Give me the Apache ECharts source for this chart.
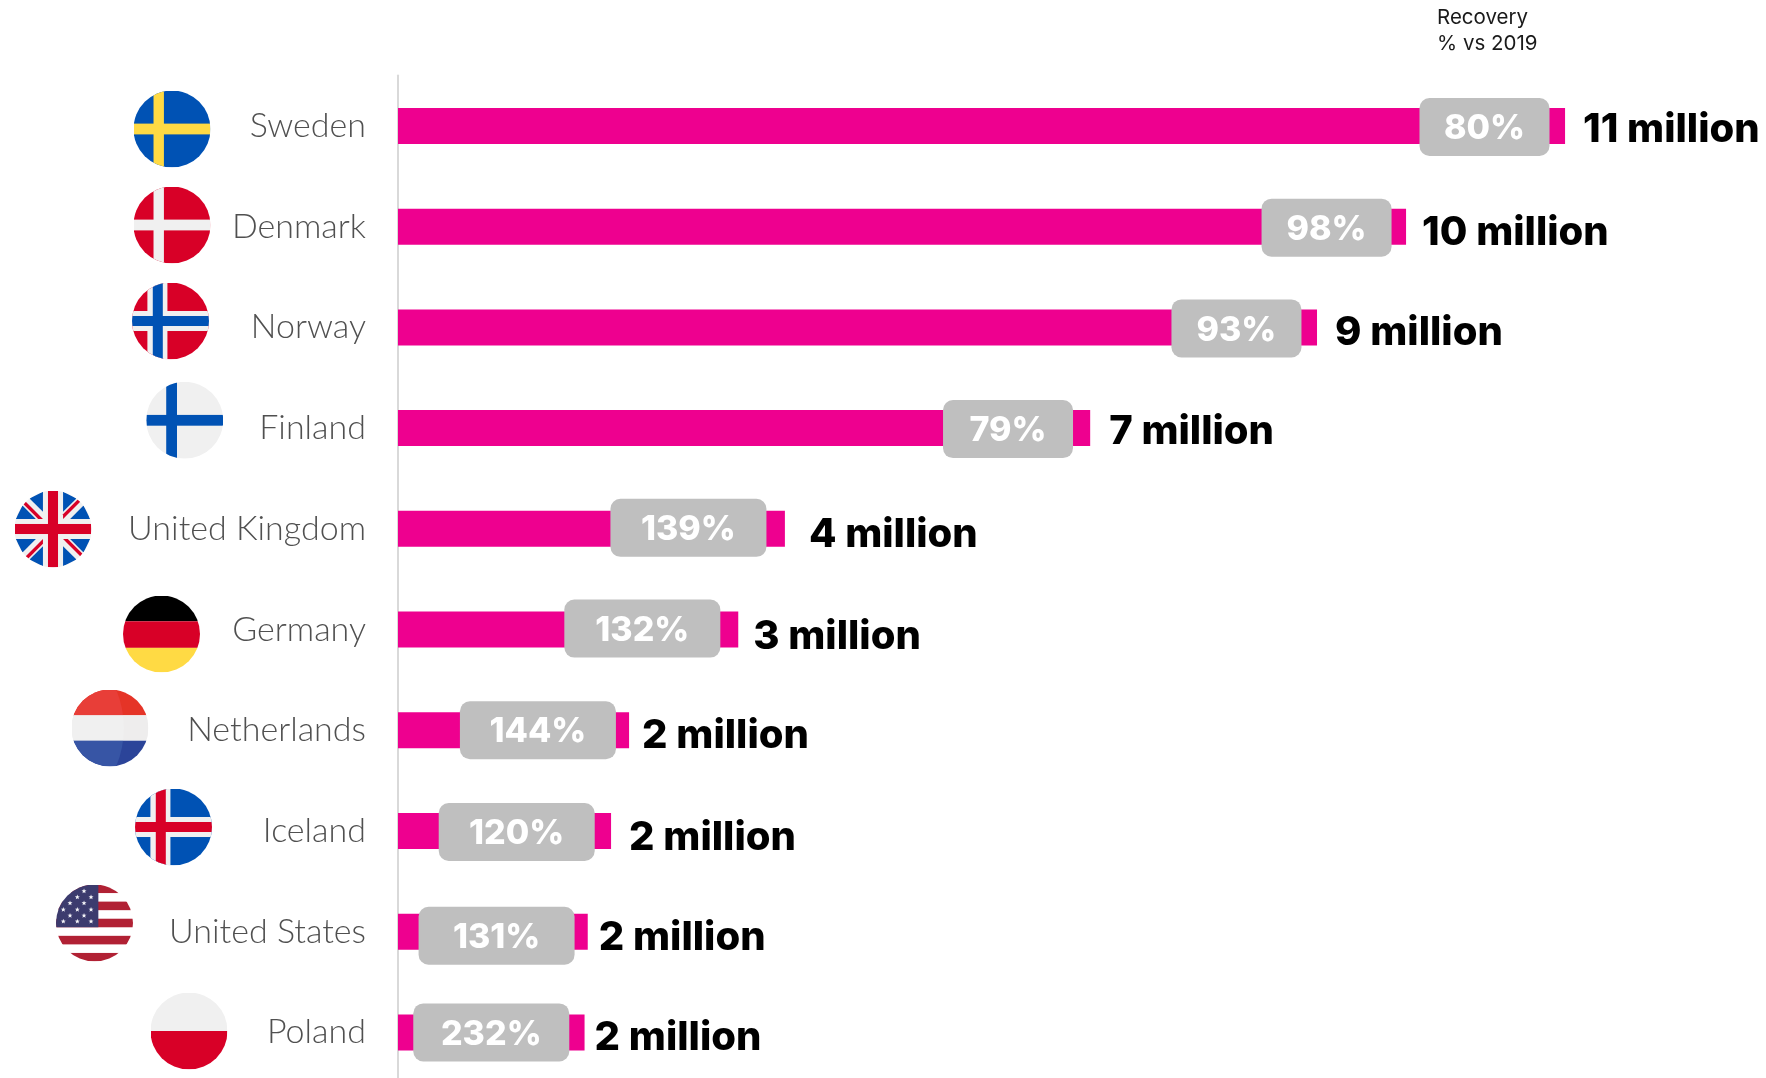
<!DOCTYPE html>
<html>
<head>
<meta charset="utf-8">
<title>Travellers by source market</title>
<style>
  html, body { margin: 0; padding: 0; background: #fff; }
  #chart { width: 1766px; height: 1078px; }
</style>
<script src="https://cdn.jsdelivr.net/npm/echarts@6/dist/echarts.min.js"></script>
</head>
<body>
<div id="chart"></div>
<script>
// Travellers per source market, in millions, and recovery against 2019
const countries = ['Sweden', 'Denmark', 'Norway', 'Finland', 'United Kingdom', 'Germany', 'Netherlands', 'Iceland', 'United States', 'Poland'];
const travellers = [11.01, 9.51, 8.67, 6.53, 3.65, 3.21, 2.18, 2.01, 1.79, 1.76];
const recovery = [80, 98, 93, 79, 139, 132, 144, 120, 131, 232];
// Where each recovery badge is centred along the value axis, in millions
const badgeAt = [10.25, 8.76, 7.91, 5.755, 2.74, 2.305, 1.32, 1.12, 0.93, 0.88];

const BODY_FONT = 'Inter, "Noto Sans", sans-serif';
const PINK = '#ee008f';
const GREY = '#bfbfbf';

// Small per-row nudges for the annotations
const labelNudge = [[18, 4], [16, 6], [18, 6], [19, 4], [24, 6], [15, 7], [13, 6], [18, 7], [11, 6], [10, 6]];
const badgeNudge = [1, 1, 1, 1, -1, -1, 0, 1, 4, 0];

// Round flag icons, each clipped to a circle on a 100-unit square
const RED = '#d80027', BLUE = '#0052b4', YELLOW = '#ffda44', PALE = '#f0f0f0';
const rect = (x, y, w, h, c) => `<rect x="${x}" y="${y}" width="${w}" height="${h}" fill="${c}"/>`;
const nordic = (bg, vx, vw, hy, hh, c) => rect(0, 0, 100, 100, bg) + rect(vx, 0, vw, 100, c) + rect(0, hy, 100, hh, c);
const nordicDouble = (bg, outer, inner) => nordic(bg, 20, 26, 37, 26, outer) + rect(27, 0, 13, 100, inner) + rect(0, 43.5, 100, 13, inner);

function starPath(cx, cy, r) {
  let d = '';
  for (let k = 0; k < 10; k++) {
    const a = -Math.PI / 2 + k * Math.PI / 5;
    const q = k % 2 ? r * 0.42 : r;
    d += (k ? 'L' : 'M') + (cx + q * Math.cos(a)).toFixed(2) + ' ' + (cy + q * Math.sin(a)).toFixed(2);
  }
  return d + 'Z';
}

const usStars = [[36.4, 8.7], [27.7, 16.5], [45.5, 16.5], [18.2, 24.2], [36.4, 24.2], [9.5, 32.5], [27.7, 32.5], [45.5, 32.5], [18.2, 40.3], [36.4, 40.3], [9.5, 48], [27.7, 48], [45.5, 48]];
const usFlag = rect(0, 0, 100, 100, '#ffffff')
  + [0, 2, 4, 6, 8].map(i => rect(0, i * 11.11, 100, 11.11, '#b12134')).join('')
  + rect(0, 0, 55, 55.5, '#3c3b6e')
  + `<path fill="#f4f4f8" d="${usStars.map(s => starPath(s[0], s[1], 3.4)).join('')}"/>`;

const ukTriangles = [
  '52.9,100.1 8.8,189.2 142,189.2', '189.2,8.8 100.1,52.9 189.2,142',
  '322.8,8.8 322.8,142 411.9,52.9', '370,189.2 503.2,189.2 459.1,100.1',
  '8.8,322.8 52.9,411.9 142,322.8', '100.1,459.1 189.2,503.2 189.2,370',
  '322.8,503.2 411.9,459.1 322.8,370', '370,322.8 459.1,411.9 503.2,322.8'
];
const ukDiagonals = [
  '322.8,322.8 437,437 452.1,420.6 354.3,322.8', '189.2,189.2 75,75 59.9,91.4 157.7,189.2',
  '189.2,322.8 75,437 91.4,452.1 189.2,354.3', '322.8,189.2 437,75 420.6,59.9 322.8,157.7'
];
const ukFlag = `<g transform="scale(0.1953)">`
  + rect(0, 0, 512, 512, PALE)
  + ukTriangles.map(p => `<polygon fill="${BLUE}" points="${p}"/>`).join('')
  + ukDiagonals.map(p => `<polygon fill="${RED}" points="${p}"/>`).join('')
  + rect(222.6, 0, 66.8, 512, RED) + rect(0, 222.6, 512, 66.8, RED)
  + `</g>`;

const dutchFlag = rect(0, 0, 100, 33.5, '#e53427') + rect(0, 33.5, 100, 33, '#eeeded') + rect(0, 66.5, 100, 33.5, '#2b4499')
  + `<clipPath id="n"><circle cx="-62" cy="50" r="130"/></clipPath><g clip-path="url(#n)">`
  + rect(0, 0, 100, 33.5, '#e83e38') + rect(0, 33.5, 100, 33, '#f0f0f0') + rect(0, 66.5, 100, 33.5, '#3755a5') + `</g>`;

const flagArt = {
  Sweden: nordic(BLUE, 26, 13.5, 43, 14, YELLOW),
  Denmark: nordic(RED, 26, 13.5, 43, 14, PALE),
  Norway: nordicDouble(RED, PALE, BLUE),
  Finland: nordic(PALE, 26, 14, 43, 14, BLUE),
  'United Kingdom': ukFlag,
  Germany: rect(0, 0, 100, 33.5, '#000000') + rect(0, 33.5, 100, 34.5, RED) + rect(0, 68, 100, 32, YELLOW),
  Netherlands: dutchFlag,
  Iceland: nordicDouble(BLUE, PALE, RED),
  'United States': usFlag,
  Poland: rect(0, 0, 100, 50, PALE) + rect(0, 50, 100, 50, RED)
};

// Flag centres on the page
const flagCentres = {
  Sweden: [172, 129], Denmark: [172, 225], Norway: [170.5, 321], Finland: [184.7, 420.3],
  'United Kingdom': [53, 529], Germany: [161.5, 634], Netherlands: [110, 728],
  Iceland: [173.5, 827], 'United States': [94.5, 923], Poland: [189, 1031]
};
const FLAG_SIZE = 77;

function flagImage(name) {
  const svg = `<svg xmlns="http://www.w3.org/2000/svg" width="${FLAG_SIZE * 2}" height="${FLAG_SIZE * 2}" viewBox="0 0 100 100">`
    + `<clipPath id="c"><circle cx="50" cy="50" r="50"/></clipPath><g clip-path="url(#c)">${flagArt[name]}</g></svg>`;
  return 'data:image/svg+xml;charset=utf-8,' + encodeURIComponent(svg);
}

const chart = echarts.init(document.getElementById('chart'), null, { renderer: 'canvas' });

chart.setOption({
  animation: false,
  backgroundColor: '#ffffff',
  title: {
    text: 'Recovery\n% vs 2019',
    left: 1432,
    top: 0,
    textStyle: { fontFamily: BODY_FONT, fontWeight: 400, fontSize: 20.5, lineHeight: 26, color: '#1a1a1a' }
  },
  grid: { left: 398, top: 75.6, width: 1272, height: 1007.2, outerBoundsMode: 'none' },
  xAxis: { type: 'value', min: 0, max: 12, show: false },
  yAxis: {
    type: 'category',
    data: countries,
    inverse: true,
    offset: 1,
    axisLine: { show: true, lineStyle: { color: '#d9d9d9', width: 2 } },
    axisTick: { show: false },
    axisLabel: { margin: 31, color: '#505050', fontFamily: 'Lato, sans-serif', fontWeight: 300, fontSize: 34 }
  },
  series: [
    {
      type: 'bar',
      barWidth: 36,
      itemStyle: { color: PINK },
      data: travellers.map((v, i) => ({
        value: v,
        label: {
          show: true,
          position: 'right',
          distance: 0,
          offset: labelNudge[i],
          formatter: Math.round(v) + ' million',
          color: '#000000',
          fontFamily: BODY_FONT,
          fontWeight: 800,
          fontSize: 40
        }
      }))
    },
    {
      type: 'custom',
      clip: false,
      z: 5,
      data: badgeAt.map((x, i) => [x, i, recovery[i]]),
      encode: { x: 0, y: 1 },
      renderItem(params, api) {
        const pos = api.coord([api.value(0), api.value(1)]);
        const text = api.value(2) + '%';
        const w = text.length > 3 ? 156 : 130;
        const h = 58;
        const cy = pos[1] + badgeNudge[params.dataIndex];
        return {
          type: 'group',
          children: [
            { type: 'rect', shape: { x: pos[0] - w / 2, y: cy - h / 2, width: w, height: h, r: 10 }, style: { fill: GREY } },
            {
              type: 'text',
              style: {
                x: pos[0], y: cy + 2, text, fill: '#ffffff', align: 'center', verticalAlign: 'middle',
                font: '800 34px ' + BODY_FONT
              }
            }
          ]
        };
      }
    }
  ],
  graphic: countries.map(name => ({
    type: 'image',
    silent: true,
    x: flagCentres[name][0] - FLAG_SIZE / 2,
    y: flagCentres[name][1] - FLAG_SIZE / 2,
    style: { image: flagImage(name), width: FLAG_SIZE, height: FLAG_SIZE }
  }))
});
</script>
</body>
</html>
